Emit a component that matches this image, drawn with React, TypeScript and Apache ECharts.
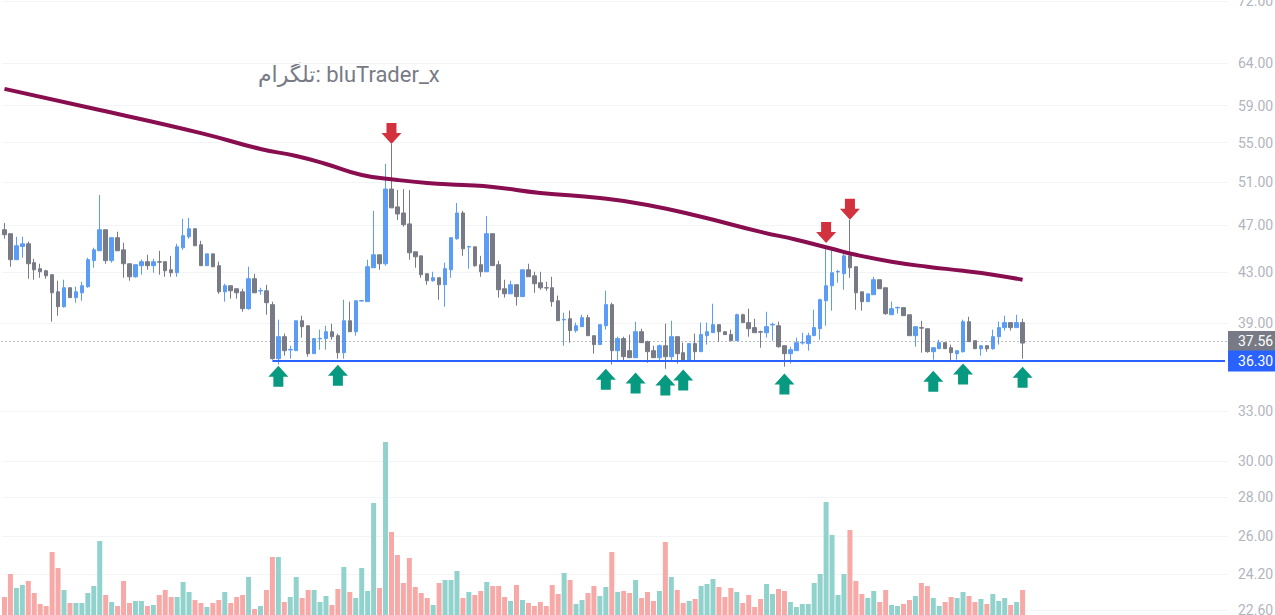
import React, { useEffect, useRef } from "react";
import * as echarts from "echarts";

const opens = [46.60,46.25,44.02,45.14,45.37,43.77,43.27,43.10,42.78,41.41,40.25,41.73,40.95,41.33,41.81,43.94,44.77,46.60,43.94,45.90,44.85,43.68,42.61,43.52,43.85,43.52,43.85,43.85,43.18,42.94,45.03,45.98,46.69,45.29,43.52,44.51,43.52,41.41,41.89,41.65,41.41,40.10,42.45,41.47,41.49,40.41,36.46,38.02,37.07,37.02,39.19,38.82,36.81,37.86,37.88,38.38,38.09,36.88,39.19,38.38,40.69,40.64,43.35,44.43,43.68,50.35,48.67,48.11,47.12,44.68,44.34,42.86,42.29,42.53,41.97,43.18,45.81,48.11,45.09,45.11,43.60,43.02,46.25,43.60,41.65,41.25,41.97,41.03,43.18,42.69,42.13,41.73,41.73,40.71,39.25,39.34,38.46,38.75,39.42,38.09,37.45,38.82,40.41,37.02,37.88,37.02,36.53,38.38,37.66,37.02,36.53,37.37,36.60,38.02,36.88,36.32,37.52,36.95,38.09,38.31,38.90,38.38,38.17,37.73,39.64,39.05,38.68,38.38,38.31,38.88,38.82,37.37,36.81,37.02,37.57,37.52,38.09,38.60,40.71,41.89,43.00,42.86,44.34,43.43,41.41,40.64,41.18,42.37,41.73,39.64,40.16,40.18,39.64,38.09,38.68,38.60,36.95,37.16,37.59,37.23,36.81,36.95,39.12,37.73,37.16,37.37,37.16,38.02,38.68,39.05,38.68,39.05];
const closes = [46.16,44.02,45.20,45.37,43.68,43.18,43.02,42.69,41.33,40.25,41.73,40.95,41.41,41.89,44.02,44.85,46.60,43.94,45.90,44.77,43.68,42.61,43.60,43.85,43.52,43.85,43.81,43.10,42.94,45.11,46.07,46.69,45.20,43.52,44.51,43.43,41.41,41.89,41.49,41.33,40.10,42.45,41.33,41.51,40.56,36.46,38.02,37.02,37.11,39.19,38.75,36.81,37.88,37.90,38.38,38.02,36.88,39.19,38.38,40.71,40.73,43.43,44.43,43.68,50.35,48.58,48.02,47.05,44.60,44.26,42.78,42.29,42.53,41.97,43.27,45.90,48.11,44.94,45.13,43.52,43.02,46.25,43.52,41.57,41.25,41.97,41.03,43.18,42.61,42.05,41.73,41.71,40.64,39.19,39.29,38.46,38.82,39.42,38.09,37.45,38.90,40.41,37.02,37.88,36.60,36.53,38.38,37.59,36.95,36.53,37.37,36.60,38.02,36.81,36.32,37.52,36.95,38.17,38.38,38.90,38.38,38.17,37.73,39.64,39.05,38.60,38.31,38.35,38.75,38.92,37.30,36.81,37.09,37.59,37.61,38.09,38.68,40.79,41.89,42.94,43.04,44.34,43.35,41.33,40.64,41.25,42.37,41.65,39.72,40.10,40.20,39.57,38.09,38.75,38.64,36.95,37.23,37.59,37.16,36.88,37.02,39.12,37.66,37.16,37.37,37.16,38.02,38.68,39.05,38.68,39.05,37.56];
const highs = [47.21,46.25,45.98,45.98,45.55,44.09,43.68,43.18,42.78,42.29,42.37,41.73,41.81,42.21,44.18,45.03,49.79,46.60,45.90,46.42,45.46,43.68,43.60,44.02,44.43,44.09,44.77,43.85,44.34,45.37,47.57,47.66,46.69,45.63,44.51,44.51,43.85,42.05,41.89,41.65,41.65,43.43,42.86,41.73,41.97,40.64,39.27,38.24,37.37,39.19,39.57,38.82,37.88,38.53,38.82,38.97,38.24,40.79,40.64,40.71,40.73,44.02,48.30,44.43,52.83,54.86,50.26,50.35,50.26,44.68,44.34,42.86,43.02,42.53,43.77,45.90,49.04,48.30,45.20,45.11,44.34,47.84,46.25,43.94,42.37,42.29,41.97,43.18,43.68,43.02,43.02,42.21,42.61,41.11,39.80,39.95,39.05,39.64,39.64,38.09,38.90,41.49,40.56,38.02,38.02,38.17,39.12,38.60,37.73,37.37,37.45,38.97,39.19,38.02,37.59,37.52,38.24,39.05,39.05,40.48,38.90,38.38,38.53,39.72,39.72,40.10,39.34,38.46,39.87,39.05,39.12,37.37,37.30,37.95,38.31,38.31,40.02,40.87,44.94,45.03,43.18,44.77,47.48,43.43,41.41,41.25,42.61,42.37,41.73,40.64,40.25,40.18,39.64,38.75,39.19,38.60,37.23,37.80,37.59,37.45,37.02,39.27,39.49,37.73,37.37,37.37,38.53,39.12,39.57,39.05,39.64,39.34];
const lows = [45.81,43.43,44.02,44.18,42.45,42.37,42.53,42.45,39.12,39.57,40.18,40.95,40.56,40.71,41.73,43.35,44.77,43.68,43.77,44.77,42.53,42.29,42.53,42.78,43.18,42.94,42.78,42.61,42.61,42.61,44.85,45.81,45.20,43.52,43.52,43.43,41.25,40.64,40.87,40.87,39.87,40.02,41.33,41.18,39.64,36.39,36.05,36.67,36.46,37.02,37.95,36.60,36.81,37.09,37.09,37.80,36.46,36.46,38.38,38.09,40.64,40.64,43.35,43.18,43.52,48.58,47.48,46.87,44.02,43.35,42.53,41.97,42.21,40.79,40.25,42.53,45.72,44.34,43.27,43.43,42.61,43.02,43.52,40.95,40.95,41.25,40.33,41.03,42.61,41.33,41.57,41.49,40.25,39.19,37.37,37.59,38.31,38.75,38.09,36.81,37.45,38.53,36.05,36.32,36.32,36.53,36.53,37.59,36.18,36.53,36.25,35.77,36.32,36.12,36.32,36.25,36.32,36.95,37.45,38.31,37.66,38.17,37.73,37.73,39.05,38.02,38.31,37.23,37.95,37.73,37.23,35.91,36.12,37.02,37.45,37.02,38.09,37.80,38.82,39.95,42.13,41.57,42.53,40.02,39.95,40.64,41.18,41.65,39.64,39.64,39.72,39.57,38.09,37.30,36.88,36.88,36.39,37.16,37.16,36.32,36.39,36.88,37.66,37.16,36.67,36.95,37.09,37.45,38.46,38.46,38.68,36.46];
const volumes = [54,123,81,90,102,66,33,27,189,141,75,36,36,36,66,87,222,60,39,27,102,36,42,42,27,30,60,75,54,54,99,69,45,36,24,36,45,69,36,54,60,114,18,27,75,174,174,39,54,114,51,75,75,39,57,30,78,144,69,51,141,72,336,81,519,249,180,96,171,84,66,51,30,96,105,105,132,51,69,60,72,99,87,87,54,42,90,45,36,27,39,27,90,63,126,105,33,45,66,87,57,84,189,69,72,66,105,51,69,42,72,219,114,75,36,42,48,87,93,108,84,54,81,69,36,60,24,48,93,63,78,72,39,24,33,33,96,123,339,240,60,123,255,102,63,51,72,39,75,30,27,33,45,57,96,87,51,27,39,54,51,69,57,39,48,33,63,42,51,30,39,75];

const maIndex = [0,16,33,43,49,54,60,66,71,77,82,90,100,108,117,127,133,139,143,149,155,161,166,171];
const maValues = [60.92,58.53,56.01,54.34,53.62,52.81,51.72,51.23,50.94,50.74,50.55,49.98,49.50,48.85,47.76,46.41,45.72,44.94,44.43,43.85,43.43,43.10,42.78,42.37];

const buyIndex = [46,56,101,106,111,114,131,156,161,171];
const buyPrice = [35.98,36.05,35.77,35.51,35.38,35.71,35.45,35.64,36.12,35.91];
const sellIndex = [65,138,142];
const sellPrice = [54.86,45.44,47.49];

const priceTicks = [22.6,24.2,26,28,30,33,39,43,47,51,55,59,64,72];
const supportLevel = 36.3;
const supportStartIndex = 45;
const lastPrice = 37.56;
const slotCount = 206;
const priceMin = 22.387;
const priceMax = 72.15;
const volumeMax = 525;
const watermark = "تلگرام: bluTrader_x";

const UP = "#5b9cf6";
const DOWN = "#787b86";
const VOL_UP = "#92d2cc";
const VOL_DOWN = "#f7a9a7";
const FONT = "Roboto, 'Noto Sans', 'DejaVu Sans', sans-serif";

const ln = Math.log;

export default function App() {
  const ref = useRef<HTMLDivElement>(null);
  useEffect(() => {
    if (!ref.current) return;
    const chart = echarts.init(ref.current, null, { renderer: "svg" });
    const slots = Array.from({ length: slotCount }, (_, i) => String(i));
    const candles = opens.map((o, i) => [ln(o), ln(closes[i]), ln(lows[i]), ln(highs[i])]);
    const vols = volumes.map((v, i) => ({
      value: v,
      itemStyle: { color: closes[i] >= opens[i] ? VOL_UP : VOL_DOWN },
    }));
    const ticksLn = priceTicks.map(ln);
    chart.setOption({
      animation: false,
      textStyle: { fontFamily: FONT },
      grid: [
        { left: 1.5, right: 47, top: 0, bottom: 0, outerBoundsMode: "none", containLabel: false },
        { left: 1.5, right: 47, top: 440, bottom: 0, outerBoundsMode: "none", containLabel: false },
      ],
      xAxis: [
        { type: "category", data: slots, gridIndex: 0, show: false },
        { type: "category", data: slots, gridIndex: 1, show: false },
      ],
      yAxis: [
        {
          type: "value",
          gridIndex: 0,
          position: "right",
          min: ln(priceMin),
          max: ln(priceMax),
          axisLine: { show: false },
          axisTick: { show: false, customValues: ticksLn },
          splitLine: { show: true, lineStyle: { color: "#f3f4f7", width: 1 } },
          axisLabel: {
            customValues: ticksLn,
            formatter: (v: number) => Math.exp(v).toFixed(2),
            color: "#b2b5be",
            fontSize: 14,
            margin: 10,
            fontFamily: FONT,
          },
        },
        { type: "value", gridIndex: 1, min: 0, max: volumeMax, show: false },
      ],
      graphic: [
        {
          type: "text",
          left: 258,
          top: 63,
          z: 0,
          style: { text: watermark, fontSize: 22, fill: "#787b86", fontFamily: FONT },
        },
      ],
      series: [
        {
          type: "bar",
          xAxisIndex: 1,
          yAxisIndex: 1,
          data: vols,
          barWidth: 5,
          silent: true,
        },
        {
          type: "candlestick",
          xAxisIndex: 0,
          yAxisIndex: 0,
          data: candles,
          barWidth: 4,
          itemStyle: {
            color: UP,
            color0: DOWN,
            borderColor: UP,
            borderColor0: DOWN,
            borderWidth: 1,
          },
          markLine: {
            silent: true,
            symbol: ["none", "none"],
            animation: false,
            data: [
              {
                yAxis: ln(lastPrice),
                lineStyle: { color: DOWN, type: [1, 3], width: 1 },
                label: {
                  show: true,
                  position: "end",
                  distance: 0,
                  formatter: lastPrice.toFixed(2),
                  backgroundColor: DOWN,
                  color: "#ffffff",
                  fontSize: 14,
                  fontFamily: FONT,
                  padding: [3, 10, 3, 10],
                },
              },
              [
                {
                  coord: [supportStartIndex, ln(supportLevel)],
                  lineStyle: { color: "#2962ff", type: "solid", width: 2 },
                  label: {
                    show: true,
                    position: "end",
                    distance: 3,
                    formatter: supportLevel.toFixed(2),
                    backgroundColor: "#2962ff",
                    color: "#ffffff",
                    fontSize: 14,
                    fontFamily: FONT,
                    padding: [4, 10, 3, 10],
                  },
                },
                { coord: [slotCount - 1, ln(supportLevel)] },
              ],
            ],
          },
        },
        {
          type: "line",
          xAxisIndex: 0,
          yAxisIndex: 0,
          data: maIndex.map((x, i) => [x, ln(maValues[i])]),
          smooth: true,
          symbol: "none",
          silent: true,
          lineStyle: { color: "#880e4f", width: 4 },
        },
        {
          type: "scatter",
          xAxisIndex: 0,
          yAxisIndex: 0,
          data: buyIndex.map((x, i) => [x, ln(buyPrice[i])]),
          symbol: "path://M10,0 L20,11 L15,11 L15,21 L5,21 L5,11 L0,11 Z",
          symbolSize: [20, 21],
          symbolOffset: [0, "50%"],
          itemStyle: { color: "#089981", opacity: 1 },
          silent: true,
        },
        {
          type: "scatter",
          xAxisIndex: 0,
          yAxisIndex: 0,
          data: sellIndex.map((x, i) => [x, ln(sellPrice[i])]),
          symbol: "path://M5,0 L15,0 L15,10 L20,10 L10,21 L0,10 L5,10 Z",
          symbolSize: [20, 21],
          symbolOffset: [0, "-50%"],
          itemStyle: { color: "#d1323e", opacity: 1 },
          silent: true,
        },
      ],
    });
    return () => chart.dispose();
  }, []);
  return (
    <div
      ref={ref}
      style={{ position: "fixed", left: 0, top: 0, width: 1275, height: 615, background: "#ffffff" }}
    />
  );
}
